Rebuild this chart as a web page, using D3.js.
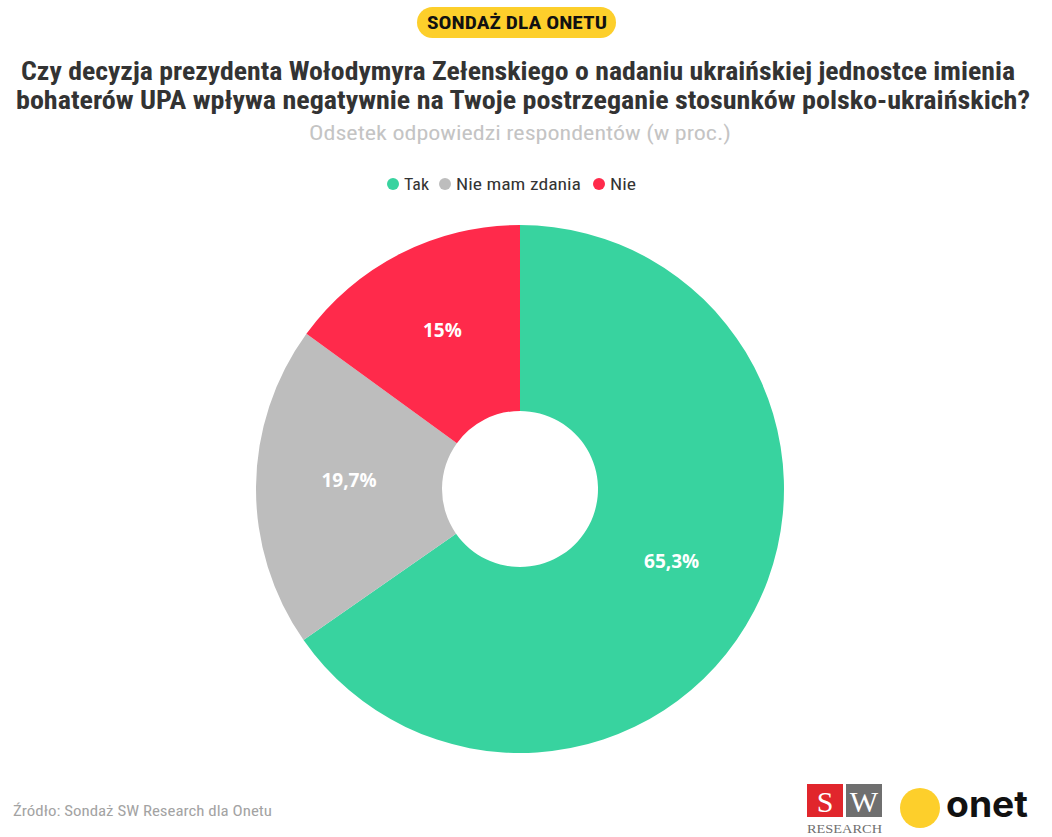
<!DOCTYPE html>
<html>
<head>
<meta charset="utf-8">
<script src="https://cdn.jsdelivr.net/npm/d3@7"></script>
<style>
  body { margin: 0; background: #fff; }
  svg { display: block; }
</style>
</head>
<body>
<div id="chart"></div>
<script>
// dane z sondażu
const categories = ['Tak', 'Nie mam zdania', 'Nie'];
const shares = [65.3, 19.7, 15];
const shareLabels = ['65,3%', '19,7%', '15%'];
const sliceColors = ['#38d39f', '#bdbdbd', '#ff2a4b'];

const titleLines = [
    'Czy decyzja prezydenta Wołodymyra Zełenskiego o nadaniu ukraińskiej jednostce imienia',
    'bohaterów UPA wpływa negatywnie na Twoje postrzeganie stosunków polsko-ukraińskich?'
];
const subtitle = 'Odsetek odpowiedzi respondentów (w proc.)';
const badgeText = 'SONDAŻ DLA ONETU';
const sourceText = 'Źródło: Sondaż SW Research dla Onetu';

const width = 1052, height = 837;
const condensed = '"Roboto Condensed","Liberation Sans Narrow","DejaVu Sans Condensed",Roboto,sans-serif';

const svg = d3.select('#chart').append('svg')
    .attr('width', width)
    .attr('height', height);

// plakietka
svg.append('rect')
    .attr('x', 417).attr('y', 7)
    .attr('width', 199).attr('height', 31)
    .attr('rx', 15.5)
    .attr('fill', '#fdcf2b');
svg.append('text')
    .attr('x', 517).attr('y', 29)
    .attr('text-anchor', 'middle')
    .attr('font-family', condensed)
    .attr('font-weight', 700)
    .attr('font-size', 19)
    .attr('fill', '#111')
    .attr('textLength', 180)
    .attr('lengthAdjust', 'spacingAndGlyphs')
    .text(badgeText);

// tytuł
const titleWidths = [994, 1014];
const titleCenters = [518, 523];
svg.selectAll('.title')
    .data(titleLines)
    .join('text')
    .attr('class', 'title')
    .attr('x', (d, i) => titleCenters[i])
    .attr('y', (d, i) => 80 + i * 29)
    .attr('text-anchor', 'middle')
    .attr('font-family', condensed)
    .attr('font-weight', 700)
    .attr('font-size', 26)
    .attr('fill', '#333')
    .attr('textLength', (d, i) => titleWidths[i])
    .attr('lengthAdjust', 'spacingAndGlyphs')
    .text(d => d);

svg.append('text')
    .attr('x', 520).attr('y', 140)
    .attr('text-anchor', 'middle')
    .attr('font-family', condensed)
    .attr('font-size', 20)
    .attr('fill', '#c4c4c4')
    .attr('textLength', 422)
    .attr('lengthAdjust', 'spacingAndGlyphs')
    .text(subtitle);

// legenda
const color = d3.scaleOrdinal().domain(categories).range(sliceColors);
const legendX = [393, 445, 599];
const legendW = [25, 125, 26];
const legend = svg.selectAll('.legend')
    .data(categories)
    .join('g')
    .attr('class', 'legend')
    .attr('transform', (d, i) => `translate(${legendX[i]},184)`);
legend.append('circle')
    .attr('r', 6)
    .attr('fill', d => color(d));
legend.append('text')
    .attr('x', 11)
    .attr('y', 6)
    .attr('font-family', condensed)
    .attr('font-size', 17)
    .attr('fill', '#333')
    .attr('textLength', (d, i) => legendW[i])
    .attr('lengthAdjust', 'spacingAndGlyphs')
    .text(d => d);

// wykres kołowy
const cx = 520, cy = 489;
const outerR = 264, innerR = 78;
const pieData = d3.pie().sort(null).value(d => d.value)(
    categories.map((c, i) => ({ name: c, value: shares[i], label: shareLabels[i] }))
);
const arc = d3.arc().innerRadius(innerR).outerRadius(outerR);

const g = svg.append('g').attr('transform', `translate(${cx},${cy})`);
g.selectAll('path')
    .data(pieData)
    .join('path')
    .attr('d', arc)
    .attr('fill', d => color(d.data.name));

g.selectAll('.slice-label')
    .data(pieData)
    .join('text')
    .attr('class', 'slice-label')
    .attr('transform', d => `translate(${arc.centroid(d)})`)
    .attr('text-anchor', 'middle')
    .attr('dy', '0em')
    .attr('font-family', '"Open Sans",Lato,sans-serif')
    .attr('font-weight', 700)
    .attr('font-size', 19)
    .attr('fill', '#fff')
    .text(d => d.data.label);

// stopka
svg.append('text')
    .attr('x', 13).attr('y', 816)
    .attr('font-family', condensed)
    .attr('font-size', 15)
    .attr('fill', '#a3a3a3')
    .attr('textLength', 259)
    .attr('lengthAdjust', 'spacingAndGlyphs')
    .text(sourceText);

// logo SW Research
const sw = svg.append('g');
sw.append('rect').attr('x', 807).attr('y', 784).attr('width', 36).attr('height', 33).attr('fill', '#e1262c');
sw.append('rect').attr('x', 846).attr('y', 784).attr('width', 36).attr('height', 33).attr('fill', '#6f6f6f');
sw.append('text').attr('x', 825).attr('y', 812).attr('text-anchor', 'middle')
    .attr('font-family', '"Liberation Serif","DejaVu Serif",serif').attr('font-size', 30).attr('fill', '#fff').text('S');
sw.append('text').attr('x', 864).attr('y', 812).attr('text-anchor', 'middle')
    .attr('font-family', '"Liberation Serif","DejaVu Serif",serif').attr('font-size', 30).attr('fill', '#fff').text('W');
sw.append('text').attr('x', 807).attr('y', 833)
    .attr('font-family', '"Liberation Serif","DejaVu Serif",serif').attr('font-size', 13).attr('fill', '#6f6f6f')
    .attr('textLength', 75).attr('lengthAdjust', 'spacingAndGlyphs').text('RESEARCH');

// logo onet
svg.append('circle').attr('cx', 920).attr('cy', 808).attr('r', 20).attr('fill', '#fdcf2b');
svg.append('text').attr('x', 946).attr('y', 817)
    .attr('font-family', 'Inter,Roboto,sans-serif').attr('font-weight', 700).attr('font-size', 36)
    .attr('fill', '#111')
    .attr('textLength', 82).attr('lengthAdjust', 'spacingAndGlyphs')
    .text('onet');
</script>
</body>
</html>
